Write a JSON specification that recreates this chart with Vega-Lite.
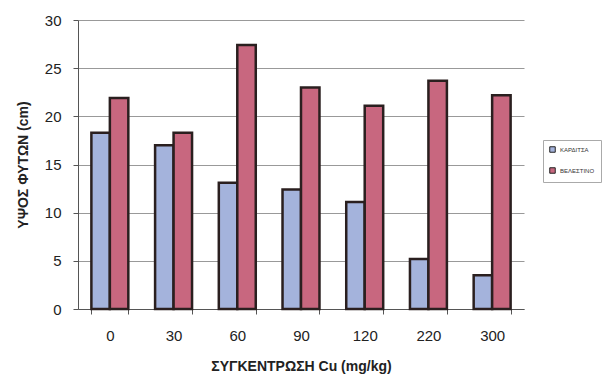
{
  "$schema": "https://vega.github.io/schema/vega-lite/v6.json",
  "width": 446,
  "height": 289,
  "autosize": {"type": "none"},
  "padding": {"left": 78, "top": 20, "right": 80, "bottom": 75},
  "background": "white",
  "config": {"font": "Liberation Sans", "view": {"stroke": null}},
  "data": {"values": [
    {"c": "0", "s": "ΚΑΡΔΙΤΣΑ", "v": 18.3},
    {"c": "0", "s": "ΒΕΛΕΣΤΙΝΟ", "v": 21.9},
    {"c": "30", "s": "ΚΑΡΔΙΤΣΑ", "v": 17.0},
    {"c": "30", "s": "ΒΕΛΕΣΤΙΝΟ", "v": 18.3},
    {"c": "60", "s": "ΚΑΡΔΙΤΣΑ", "v": 13.1},
    {"c": "60", "s": "ΒΕΛΕΣΤΙΝΟ", "v": 27.4},
    {"c": "90", "s": "ΚΑΡΔΙΤΣΑ", "v": 12.4},
    {"c": "90", "s": "ΒΕΛΕΣΤΙΝΟ", "v": 23.0},
    {"c": "120", "s": "ΚΑΡΔΙΤΣΑ", "v": 11.1},
    {"c": "120", "s": "ΒΕΛΕΣΤΙΝΟ", "v": 21.1},
    {"c": "220", "s": "ΚΑΡΔΙΤΣΑ", "v": 5.2},
    {"c": "220", "s": "ΒΕΛΕΣΤΙΝΟ", "v": 23.7},
    {"c": "300", "s": "ΚΑΡΔΙΤΣΑ", "v": 3.5},
    {"c": "300", "s": "ΒΕΛΕΣΤΙΝΟ", "v": 22.2}
  ]},
  "mark": {"type": "bar", "stroke": "#2a1f1f", "strokeWidth": 2.5},
  "encoding": {
    "x": {
      "field": "c", "type": "nominal", "sort": null,
      "scale": {"paddingInner": 0.42, "paddingOuter": 0.21},
      "axis": {
        "title": "ΣΥΓΚΕΝΤΡΩΣΗ Cu (mg/kg)", "titleFontSize": 14, "titleFontWeight": "bold",
        "titleColor": "#222", "titlePadding": 16,
        "labelAngle": 0, "labelFontSize": 15, "labelColor": "#222", "labelPadding": 14,
        "tickBand": "extent", "tickSize": 5, "tickColor": "#555", "domainColor": "#555"
      }
    },
    "xOffset": {"field": "s", "type": "nominal", "sort": ["ΚΑΡΔΙΤΣΑ", "ΒΕΛΕΣΤΙΝΟ"], "scale": {"paddingInner": 0}},
    "y": {
      "field": "v", "type": "quantitative",
      "scale": {"domain": [0, 30]},
      "axis": {
        "values": [0, 5, 10, 15, 20, 25, 30],
        "title": "ΥΨΟΣ ΦΥΤΩΝ (cm)", "titleFontSize": 14, "titleFontWeight": "bold",
        "titleColor": "#222", "titlePadding": 14,
        "labelFontSize": 15, "labelColor": "#222", "labelPadding": 12,
        "tickSize": 5, "tickColor": "#555", "domainColor": "#555",
        "grid": true, "gridColor": "#999", "gridWidth": 1
      }
    },
    "color": {
      "field": "s", "type": "nominal", "sort": ["ΚΑΡΔΙΤΣΑ", "ΒΕΛΕΣΤΙΝΟ"],
      "scale": {"range": ["#a4b3dc", "#c8677f"]},
      "legend": {
        "title": null, "orient": "none", "legendX": 465, "legendY": 120,
        "labelFontSize": 6, "symbolType": "square", "symbolSize": 30,
        "symbolStrokeColor": "#222", "symbolStrokeWidth": 1,
        "rowPadding": 10, "padding": 6, "strokeColor": "#aaa", "labelColor": "#333"
      }
    }
  }
}
